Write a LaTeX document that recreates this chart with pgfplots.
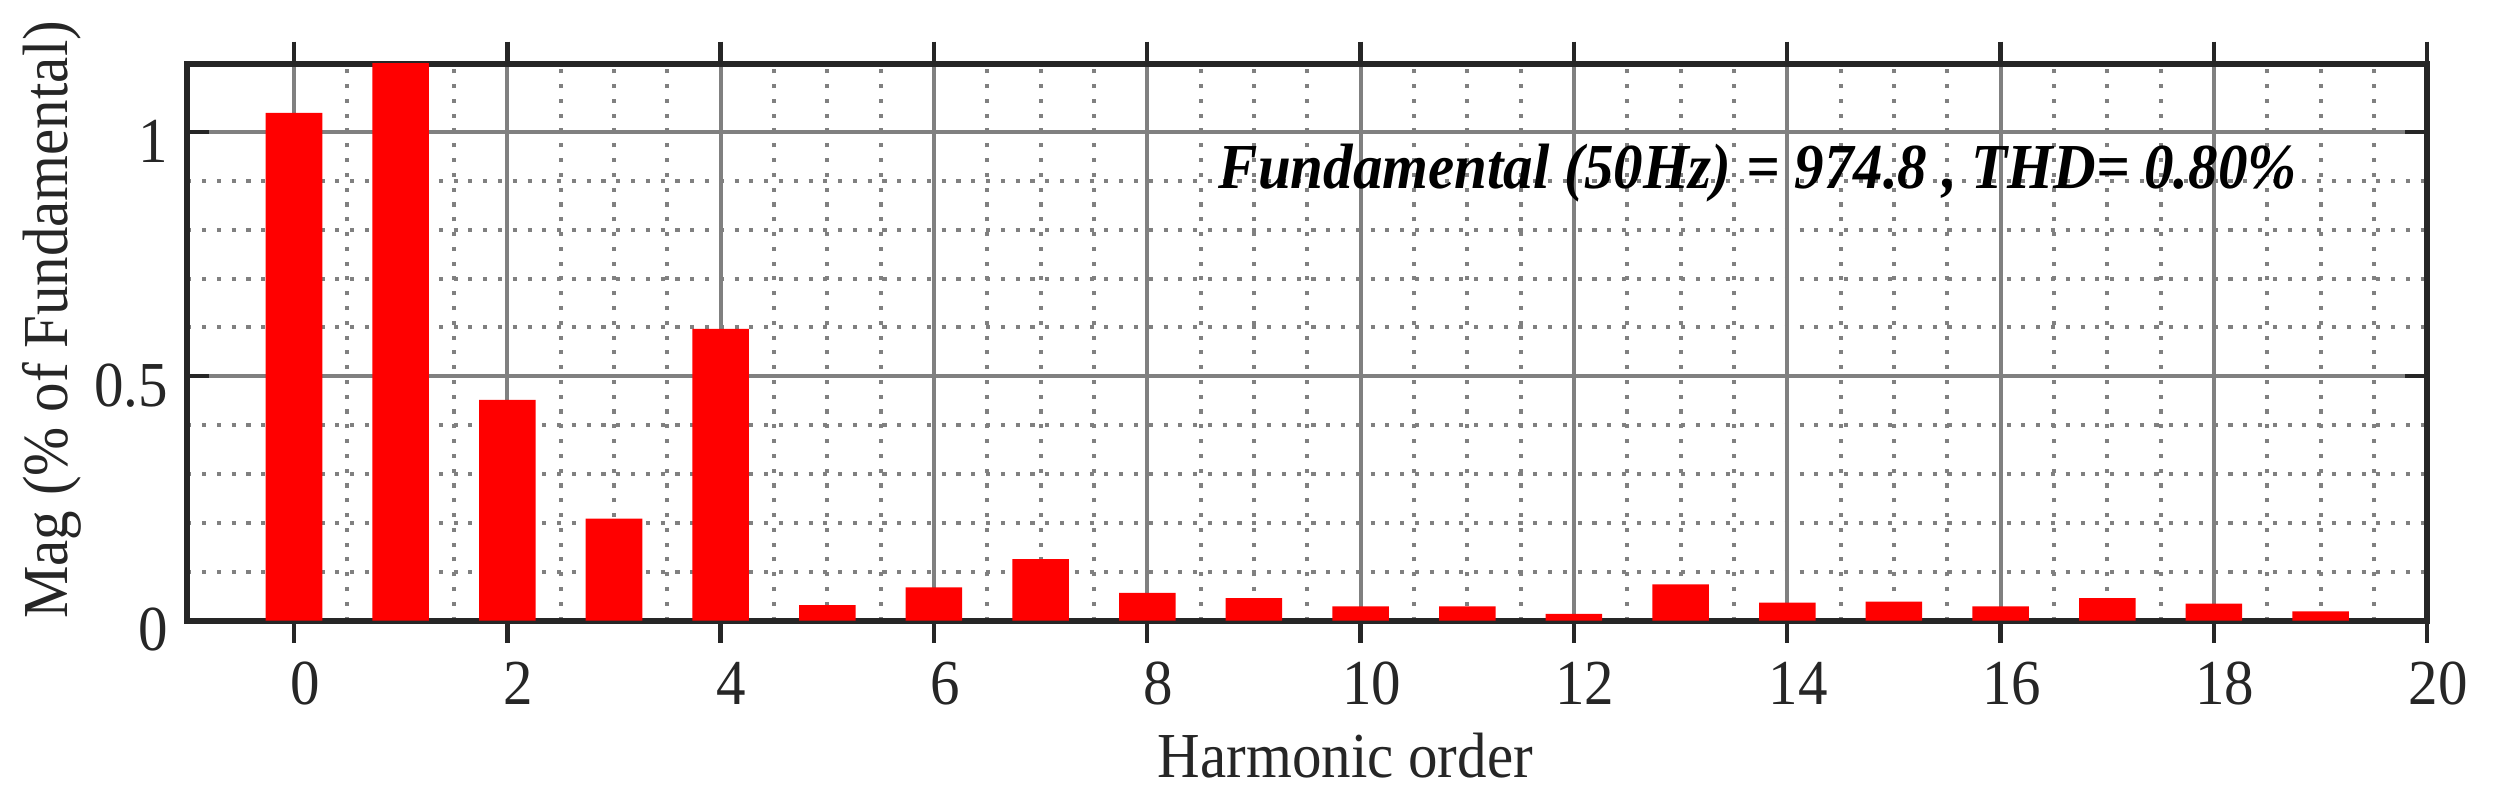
\documentclass[border=0pt]{standalone}
\usepackage{pgfplots}
\pgfplotsset{compat=1.18}
\usepackage{fontspec}
\setmainfont{Liberation Serif}[FakeStretch=0.92]
\definecolor{axdark}{RGB}{38,38,38}
\definecolor{gridgray}{RGB}{128,128,128}
\definecolor{barred}{RGB}{255,0,0}

\begin{document}
\begin{tikzpicture}
  \begin{axis}[
      scale only axis,
      width=408.9pt, height=101.7pt,
      font=\fontsize{11.7}{14}\selectfont,
      /pgf/number format/assume math mode=true,
      xmin=-1, xmax=20, ymin=0, ymax=1.14,
      xtick={0,2,...,20},
      ytick={0,0.5,1},
      yticklabels={0,0.5,1},
      minor x tick num=3,
      minor y tick num=4,
      grid=both,
      major grid style={gridgray, line width=0.75pt},
      minor grid style={gridgray, line width=0.75pt, dash pattern=on 0.75pt off 1.95pt},
      tick align=inside,
      major tick length=4pt,
      minor tick length=0pt,
      every tick/.style={axdark, line width=0.8pt},
      axis line style={axdark, line width=1.1pt},
      tick label style={axdark},
      xticklabel style={xshift=2pt},
      yticklabel style={yshift=-1.7pt},
      xlabel={Harmonic order},
      ylabel={Mag (\% of Fundamental)},
      xlabel style={at={(axis description cs:0.517,-0.20)}, anchor=north, inner sep=0pt, axdark},
      ylabel style={at={(axis description cs:-0.047,0.54)}, anchor=south, inner sep=0pt, axdark},
      ybar, bar width=0.53,
      clip=true,
    ]
    \addplot[fill=barred, draw=none] coordinates {
      (0,1.039) (1,1.20) (2,0.452) (3,0.209) (4,0.597)
      (5,0.032) (6,0.068) (7,0.126) (8,0.057) (9,0.046)
      (10,0.029) (11,0.029) (12,0.014) (13,0.074) (14,0.037)
      (15,0.039) (16,0.029) (17,0.046) (18,0.035) (19,0.019)
    };
    \node[anchor=base west, inner sep=0pt, font=\fontsize{11.7}{14}\selectfont\bfseries\itshape]
      at (axis cs:8.66,0.884) {Fundamental (50Hz) = 974.8 , THD= 0.80\%};
    \coordinate (bl) at (rel axis cs:0,0);
    \coordinate (tr) at (rel axis cs:1,1);
  \end{axis}
  \path[use as bounding box] ([xshift=-34.2pt,yshift=-33.7pt]bl) rectangle ([xshift=12pt,yshift=11.6pt]tr);
\end{tikzpicture}
\end{document}
